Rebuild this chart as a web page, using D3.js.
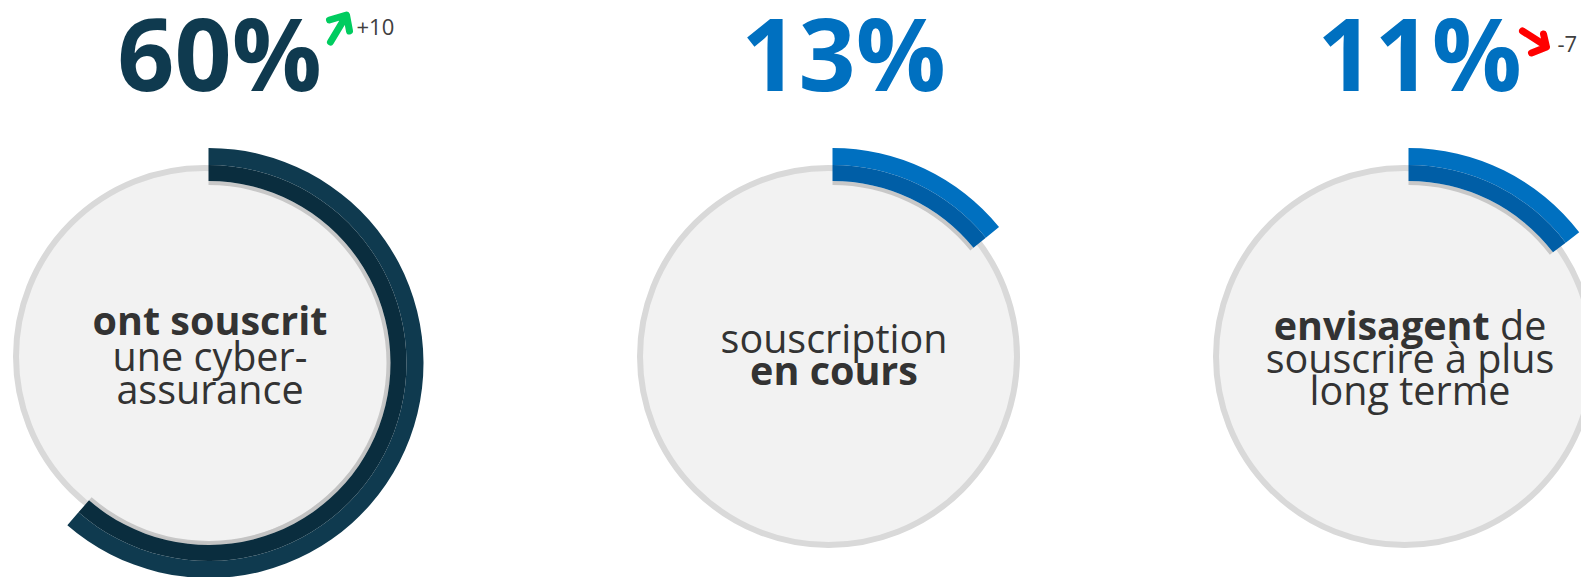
<!DOCTYPE html>
<html>
<head>
<meta charset="utf-8">
<script src="https://cdn.jsdelivr.net/npm/d3@7"></script>
<style>
  body { margin: 0; background: #fff; }
  svg { display: block; font-family: "Segoe UI", "Open Sans", sans-serif; }
</style>
</head>
<body>
<script>
// DATA
const percents = [60, 13, 11];
const arcShare = [61.4, 14.1, 14.6]; // arc length as drawn in the picture (%)
const deltas = ["+10", null, "-7"];
const captions = [
  [[["ont souscrit", true]], [["une cyber-", false]], [["assurance", false]]],
  [[["souscription", false]], [["en cours", true]]],
  [[["envisagent", true], [" de", false]], [["souscrire à plus", false]], [["long terme", false]]]
];
const numberColors = ["#0f3a4f", "#0070c0", "#0070c0"];
const arcOuterColors = ["#0f3a4f", "#0070c0", "#0070c0"];
const arcInnerColors = ["#0a2d3e", "#005ea6", "#005ea6"];

// Declare the chart dimensions
const width = 1581;
const height = 577;
const centersX = [204.5, 828.5, 1404.5];
const centerY = 356.5;
const circleR = 188.5;
// the ring is drawn slightly offset from the disc
const ringDx = 4, ringDy = 6.5;
const rInner = 182, rMid = 198, rOuter = 215;

// SCALE
const angle = d3.scaleLinear().domain([0, 100]).range([0, 2 * Math.PI]);

const svg = d3.select("body").append("svg")
    .attr("width", width)
    .attr("height", height);

const groups = svg.selectAll("g.kpi")
    .data(percents)
    .enter()
    .append("g")
    .attr("class", "kpi")
    .attr("transform", (d, i) => `translate(${centersX[i]},${centerY})`);

// gray disc
groups.append("circle")
    .attr("r", circleR)
    .attr("fill", "#f2f2f2")
    .attr("stroke", "#d9d9d9")
    .attr("stroke-width", 6);

const ring = groups.append("g")
    .attr("transform", `translate(${ringDx},${ringDy})`);

// shadow under the ring
ring.append("path")
    .attr("d", (d, i) => d3.arc()({innerRadius: rInner - 4, outerRadius: rInner, startAngle: 0, endAngle: angle(arcShare[i])}))
    .attr("fill", "#bdbdbd")
    .attr("opacity", 0.8);

// ring: lighter outer band, darker inner band
ring.append("path")
    .attr("d", (d, i) => d3.arc()({innerRadius: rMid, outerRadius: rOuter, startAngle: 0, endAngle: angle(arcShare[i])}))
    .attr("fill", (d, i) => arcOuterColors[i]);
ring.append("path")
    .attr("d", (d, i) => d3.arc()({innerRadius: rInner, outerRadius: rMid, startAngle: 0, endAngle: angle(arcShare[i])}))
    .attr("fill", (d, i) => arcInnerColors[i]);

// big numbers
groups.append("text")
    .attr("x", 15)
    .attr("y", 91 - centerY)
    .attr("text-anchor", "middle")
    .attr("font-size", 100)
    .attr("font-weight", 700)
    .attr("fill", (d, i) => numberColors[i])
    .text(d => d + "%");

// captions
const lineY = [[335, 371, 404], [353, 385], [340, 373, 405]];
groups.each(function (d, i) {
    const g = d3.select(this);
    captions[i].forEach((line, j) => {
        const t = g.append("text")
            .attr("x", 5.5)
            .attr("y", lineY[i][j] - centerY)
            .attr("text-anchor", "middle")
            .attr("font-size", 39.5)
            .attr("fill", "#333333");
        line.forEach(([s, bold]) => {
            t.append("tspan").attr("font-weight", bold ? 700 : 400).text(s);
        });
    });
});

// delta arrows
const up = "M0,28 L15,3 M-1,6 L16,1 L19,17";
const down = "M0,0 L22,14 M9,22 L24,16 L21,3";
groups.each(function (d, i) {
    if (!deltas[i]) return;
    const g = d3.select(this);
    const isUp = deltas[i].startsWith("+");
    g.append("path")
        .attr("transform", isUp ? `translate(126,${14 - centerY})` : `translate(118,${31 - centerY})`)
        .attr("d", isUp ? up : down)
        .attr("fill", "none")
        .attr("stroke", isUp ? "#00cc5f" : "#ff0000")
        .attr("stroke-width", 7)
        .attr("stroke-linecap", "round")
        .attr("stroke-linejoin", "round");
    g.append("text")
        .attr("x", isUp ? 152 : 153)
        .attr("y", (isUp ? 35 : 52) - centerY)
        .attr("font-size", isUp ? 22 : 22)
        .attr("fill", "#404040")
        .text(deltas[i]);
});
</script>
</body>
</html>
